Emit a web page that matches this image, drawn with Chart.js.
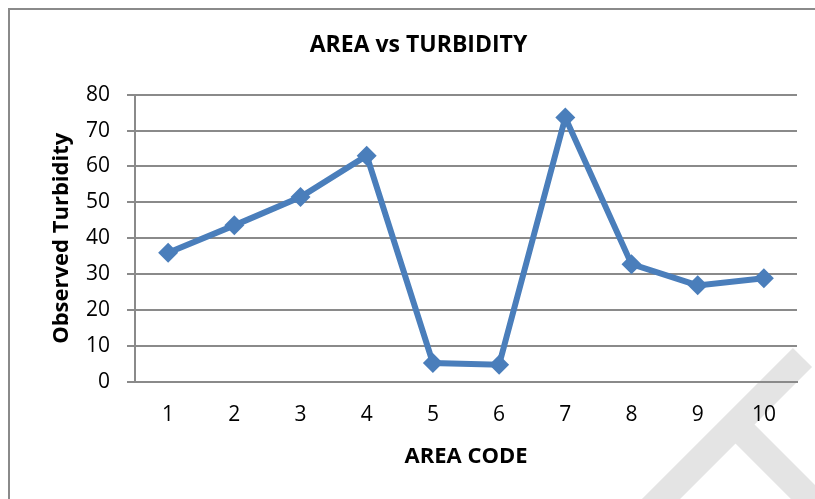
<!DOCTYPE html>
<html lang="en">
<head>
<meta charset="UTF-8">
<title>AREA vs TURBIDITY</title>
<script src="https://cdn.jsdelivr.net/npm/chart.js"></script>
<style>
body {
  margin: 0; padding: 0;
  background: #fff;
  overflow: hidden;
}
#frame {
  position: absolute;
  left: 8px; top: 8px;
  width: 900px; height: 600px;
  border-left: 2px solid #8a8a8a;
  border-top: 2px solid #8a8a8a;
}
#turbChart {
  position: absolute;
  left: 0; top: 0;
}
</style>
</head>
<body>
<div id="frame"></div>
<canvas id="turbChart" width="815" height="499"></canvas>

<script>
const areaCodes = ['1', '2', '3', '4', '5', '6', '7', '8', '9', '10'];
const turbidity = [36, 43.6, 51.5, 63, 5.3, 4.8, 73.6, 32.8, 26.9, 28.9];
const yTicks = [0, 10, 20, 30, 40, 50, 60, 70, 80];

const FONT = "'Open Sans', 'Noto Sans', sans-serif";

// faint grey mark in the bottom right corner, behind everything
const watermark = {
  id: 'watermark',
  beforeDraw(chart) {
    const ctx = chart.ctx;
    ctx.save();
    ctx.strokeStyle = '#e4e4e4';
    ctx.lineWidth = 27;
    ctx.lineCap = 'butt';
    ctx.beginPath();
    ctx.moveTo(630, 530);
    ctx.lineTo(802.5, 357.5);
    ctx.moveTo(735.5, 424.5);
    ctx.lineTo(860, 549);
    ctx.stroke();
    ctx.restore();
  }
};

new Chart(document.getElementById('turbChart'), {
  type: 'line',
  data: {
    labels: areaCodes,
    datasets: [{
      label: 'Observed Turbidity',
      data: turbidity,
      borderColor: '#4a7ebb',
      backgroundColor: '#4a7ebb',
      borderWidth: 6,
      pointStyle: 'rectRot',
      pointRadius: 10,
      pointHoverRadius: 10,
      pointBorderWidth: 0,
      tension: 0
    }]
  },
  options: {
    responsive: false,
    animation: false,
    // left padding pushes the title centre to the right like the original
    layout: { padding: { left: 40, right: 18, top: 0, bottom: 0 } },
    plugins: {
      legend: { display: false },
      tooltip: { enabled: false },
      title: {
        display: true,
        text: 'AREA vs TURBIDITY',
        color: '#000',
        font: { family: FONT, size: 23, weight: 'bold' },
        padding: { top: 32, bottom: 35 }
      }
    },
    scales: {
      x: {
        offset: true,
        grid: { display: false, drawTicks: false },
        border: { display: true, color: '#8a8a8a', width: 2 },
        ticks: { color: '#000', font: { family: FONT, size: 21 }, padding: 20 },
        title: {
          display: true,
          text: 'AREA CODE',
          color: '#000',
          font: { family: FONT, size: 22, weight: 'bold' },
          padding: { top: 0, bottom: 29 }
        },
        afterFit(scale) { scale.height = 117; }
      },
      y: {
        min: 0,
        max: 80,
        afterBuildTicks(scale) { scale.ticks = yTicks.map(v => ({ value: v })); },
        grid: { color: '#8a8a8a', lineWidth: 2, tickLength: 8, tickColor: '#8a8a8a' },
        border: { display: true, color: '#8a8a8a', width: 2 },
        ticks: { color: '#000', font: { family: FONT, size: 21 }, padding: 17 },
        title: {
          display: true,
          text: 'Observed Turbidity',
          color: '#000',
          font: { family: FONT, size: 22, weight: 'bold' },
          padding: { top: 9, bottom: 0 }
        },
        afterFit(scale) { scale.width = 95; }
      }
    }
  },
  plugins: [watermark]
});
</script>
</body>
</html>
